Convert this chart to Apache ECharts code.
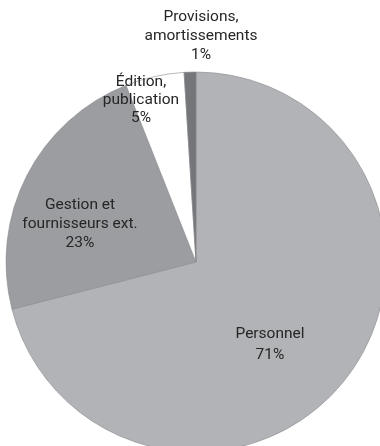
<!DOCTYPE html>
<html><head><meta charset="utf-8">
<script src="https://cdn.jsdelivr.net/npm/echarts@6/dist/echarts.min.js"></script>
<style>html,body{margin:0;padding:0;background:#fff}#c{width:380px;height:446px}</style>
</head><body><div id="c"></div>
<script>
const categories = ['Personnel', 'Gestion et\nfournisseurs ext.', 'Édition,\npublication', 'Provisions,\namortissements'];
const values = [71, 23, 5, 1];
const colors = ['#b1b3b6', '#9b9da0', '#ffffff', '#75767a'];
const labelPos = [[270, 345], [80, 224], [141, 100], [201, 36]];
const lineH = [21, 19, 18, 19];

const chart = echarts.init(document.getElementById('c'), null, {renderer: 'canvas'});
chart.setOption({
  animation: false,
  series: [{
    type: 'pie',
    center: [196, 262],
    radius: [0, 190],
    startAngle: 90,
    clockwise: true,
    data: categories.map((n, i) => ({
      name: n, value: values[i],
      itemStyle: {color: colors[i]},
      label: {lineHeight: lineH[i]}
    })),
    itemStyle: {borderColor: '#8a8b8e', borderWidth: 0.6},
    label: {
      position: 'inside',
      formatter: p => p.name + '\n' + p.value + '%',
      color: '#262626',
      fontSize: 15.5,
      fontFamily: 'Roboto',
      align: 'center'
    },
    labelLine: {show: false},
    labelLayout: p => ({x: labelPos[p.dataIndex][0], y: labelPos[p.dataIndex][1], align: 'center', verticalAlign: 'middle'})
  }]
});
</script></body></html>
